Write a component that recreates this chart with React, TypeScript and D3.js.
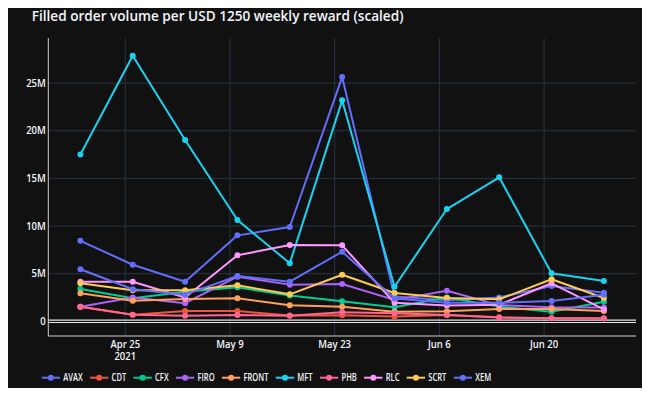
import React, { useRef, useEffect } from 'react';
import * as d3 from 'd3';

const titleText = 'Filled order volume per USD 1250 weekly reward (scaled)';

const weeks = [
  '2021-04-19', '2021-04-26', '2021-05-03', '2021-05-10', '2021-05-17', '2021-05-24',
  '2021-05-31', '2021-06-07', '2021-06-14', '2021-06-21', '2021-06-28',
];

// values in millions
const AVAX = [8.45, 5.94, 4.16, 9.02, 9.9, 25.63, 2.6, 2.2, 2.5, 3.7, 3.0];
const CDT = [1.53, 0.69, 1.08, 1.08, 0.6, 0.65, 0.5, 0.66, 0.42, 0.33, 0.31];
const CFX = [3.39, 2.41, 3.1, 3.57, 2.7, 2.1, 1.47, 2.5, 1.55, 1.0, 2.06];
const FIRO = [1.53, 2.5, 1.9, 4.68, 3.85, 3.91, 2.25, 3.2, 1.7, 1.47, 1.45];
const FRONT = [2.94, 2.16, 2.35, 2.41, 1.68, 1.53, 1.0, 1.05, 1.3, 1.29, 1.08];
const MFT = [17.5, 27.87, 19.02, 10.63, 6.09, 23.19, 3.63, 11.78, 15.11, 5.04, 4.23];
const PHB = [1.53, 0.69, 0.59, 0.66, 0.59, 0.95, 0.85, 0.66, 0.4, 0.31, 0.3];
const RLC = [4.16, 4.16, 2.5, 6.93, 8.0, 7.97, 1.95, 1.65, 1.75, 3.99, 1.25];
const SCRT = [3.99, 3.25, 3.25, 3.78, 2.83, 4.89, 2.97, 2.45, 2.31, 4.41, 2.45];
const XEM = [5.46, 3.36, 2.8, 4.75, 4.16, 7.3, 2.4, 1.95, 1.95, 2.13, 2.8];

const seriesNames = ['AVAX', 'CDT', 'CFX', 'FIRO', 'FRONT', 'MFT', 'PHB', 'RLC', 'SCRT', 'XEM'];
const seriesValues = [AVAX, CDT, CFX, FIRO, FRONT, MFT, PHB, RLC, SCRT, XEM];
const colors = ['#636efa', '#EF553B', '#00cc96', '#ab63fa', '#FFA15A', '#19d3f3', '#FF6692', '#FF97FF', '#FECB52', '#636efa'];

const yTicks = [0, 5, 10, 15, 20, 25];
const xTicks = ['2021-04-25', '2021-05-09', '2021-05-23', '2021-06-06', '2021-06-20'];

const parse = d3.timeParse('%Y-%m-%d');

const Chart: React.FC = () => {
  const ref = useRef<SVGSVGElement>(null);

  useEffect(() => {
    const width = 650;
    const height = 396;
    const plot = { left: 48.3, right: 636, top: 38, bottom: 336 };
    const font = '"Open Sans", "DejaVu Sans", sans-serif';
    const textColor = '#f2f5fa';

    const svg = d3.select(ref.current);
    svg.selectAll('*').remove();
    svg.attr('width', width).attr('height', height);

    svg.append('rect').attr('width', width).attr('height', height).attr('fill', '#111111');

    // horizontal squeeze so a sample string gets the wanted width at a given size
    const squeeze = (sample: string, size: number, target: number) => {
      const t = svg.append('text').attr('font-family', font).attr('font-size', size)
        .attr('font-weight', 600).text(sample);
      const w = (t.node() as SVGTextElement).getComputedTextLength();
      t.remove();
      return target / w;
    };

    const label = (
      parent: d3.Selection<any, any, any, any>,
      px: number, py: number, str: string, size: number, sx: number, anchor = 'start',
    ) => parent.append('text')
      .attr('transform', `translate(${px},${py}) scale(${sx},1)`)
      .attr('text-anchor', anchor)
      .attr('font-family', font).attr('font-size', size).attr('font-weight', 600)
      .attr('fill', textColor)
      .text(str);

    const x = d3.scaleTime()
      .domain([new Date(2021, 3, 14, 17), new Date(2021, 6, 2, 7)])
      .range([plot.left, plot.right]);

    const y = d3.scaleLinear()
      .domain([-1.54, 29.73])
      .range([plot.bottom, plot.top]);

    // grid
    svg.append('g')
      .selectAll('line')
      .data(xTicks)
      .join('line')
      .attr('x1', d => x(parse(d)!)).attr('x2', d => x(parse(d)!))
      .attr('y1', plot.top).attr('y2', plot.bottom)
      .attr('stroke', '#283442').attr('stroke-width', 1);

    svg.append('g')
      .selectAll('line')
      .data(yTicks.filter(d => d !== 0))
      .join('line')
      .attr('x1', plot.left).attr('x2', plot.right)
      .attr('y1', d => y(d)).attr('y2', d => y(d))
      .attr('stroke', '#283442').attr('stroke-width', 1);

    // zero line (double)
    [-1.2, 1.2].forEach(off => {
      svg.append('line')
        .attr('x1', plot.left).attr('x2', plot.right)
        .attr('y1', y(0) + off).attr('y2', y(0) + off)
        .attr('stroke', '#e8e8e8').attr('stroke-width', 1.2);
    });

    // axis lines
    svg.append('line')
      .attr('x1', plot.left).attr('x2', plot.left)
      .attr('y1', plot.top).attr('y2', plot.bottom)
      .attr('stroke', '#d0d0d0').attr('stroke-width', 1);
    svg.append('line')
      .attr('x1', plot.left).attr('x2', plot.right)
      .attr('y1', plot.bottom).attr('y2', plot.bottom)
      .attr('stroke', '#d0d0d0').attr('stroke-width', 1);

    // tick labels
    const tickSize = 10;
    const tickSx = squeeze('May 9', tickSize, 27.3);
    const yAxisG = svg.append('g');
    yTicks.forEach(d => {
      label(yAxisG, plot.left - 2.5, y(d) + 3.5, d === 0 ? '0' : `${d}M`, tickSize, tickSx, 'end');
    });

    const fmt = d3.timeFormat('%b %-d');
    const xAxisG = svg.append('g');
    xTicks.forEach(d => {
      label(xAxisG, x(parse(d)!), 348, fmt(parse(d)!), tickSize, tickSx, 'middle');
    });
    label(xAxisG, x(parse(xTicks[0])!), 360, '2021', tickSize, tickSx, 'middle');

    // series
    const line = d3.line<number>()
      .x((_, i) => x(parse(weeks[i])!))
      .y(d => y(d));

    const plotG = svg.append('g');
    seriesValues.forEach((vals, k) => {
      const g = plotG.append('g');
      g.append('path')
        .datum(vals)
        .attr('fill', 'none')
        .attr('stroke', colors[k])
        .attr('stroke-width', 2)
        .attr('stroke-linejoin', 'round')
        .attr('d', line);
      g.selectAll('circle')
        .data(vals)
        .join('circle')
        .attr('cx', (_, i) => x(parse(weeks[i])!))
        .attr('cy', d => y(d))
        .attr('r', 3)
        .attr('fill', colors[k]);
    });

    // title
    const titleSize = 14;
    const titleSx = squeeze(titleText, titleSize, 372);
    label(svg, 31.7, 20.5, titleText, titleSize, titleSx);

    // legend
    const legendSize = 10;
    const legendSx = squeeze('AVAX', legendSize, 19.4);
    const legend = svg.append('g');
    let lx = 41.7;
    const ly = 377.7;
    seriesNames.forEach((name, k) => {
      legend.append('line')
        .attr('x1', lx).attr('x2', lx + 18.3)
        .attr('y1', ly).attr('y2', ly)
        .attr('stroke', colors[k]).attr('stroke-width', 2);
      legend.append('circle')
        .attr('cx', lx + 9.2).attr('cy', ly).attr('r', 3)
        .attr('fill', colors[k]);
      const t = label(legend, lx + 21.6, ly + 3.6, name, legendSize, legendSx);
      const w = (t.node() as SVGTextElement).getComputedTextLength() * legendSx;
      lx = lx + 21.6 + w + 7.3;
    });
  }, []);

  return <svg ref={ref} style={{ display: 'block' }}></svg>;
};

export default function App() {
  return (
    <div style={{ margin: -8 }}>
      <Chart />
    </div>
  );
}
